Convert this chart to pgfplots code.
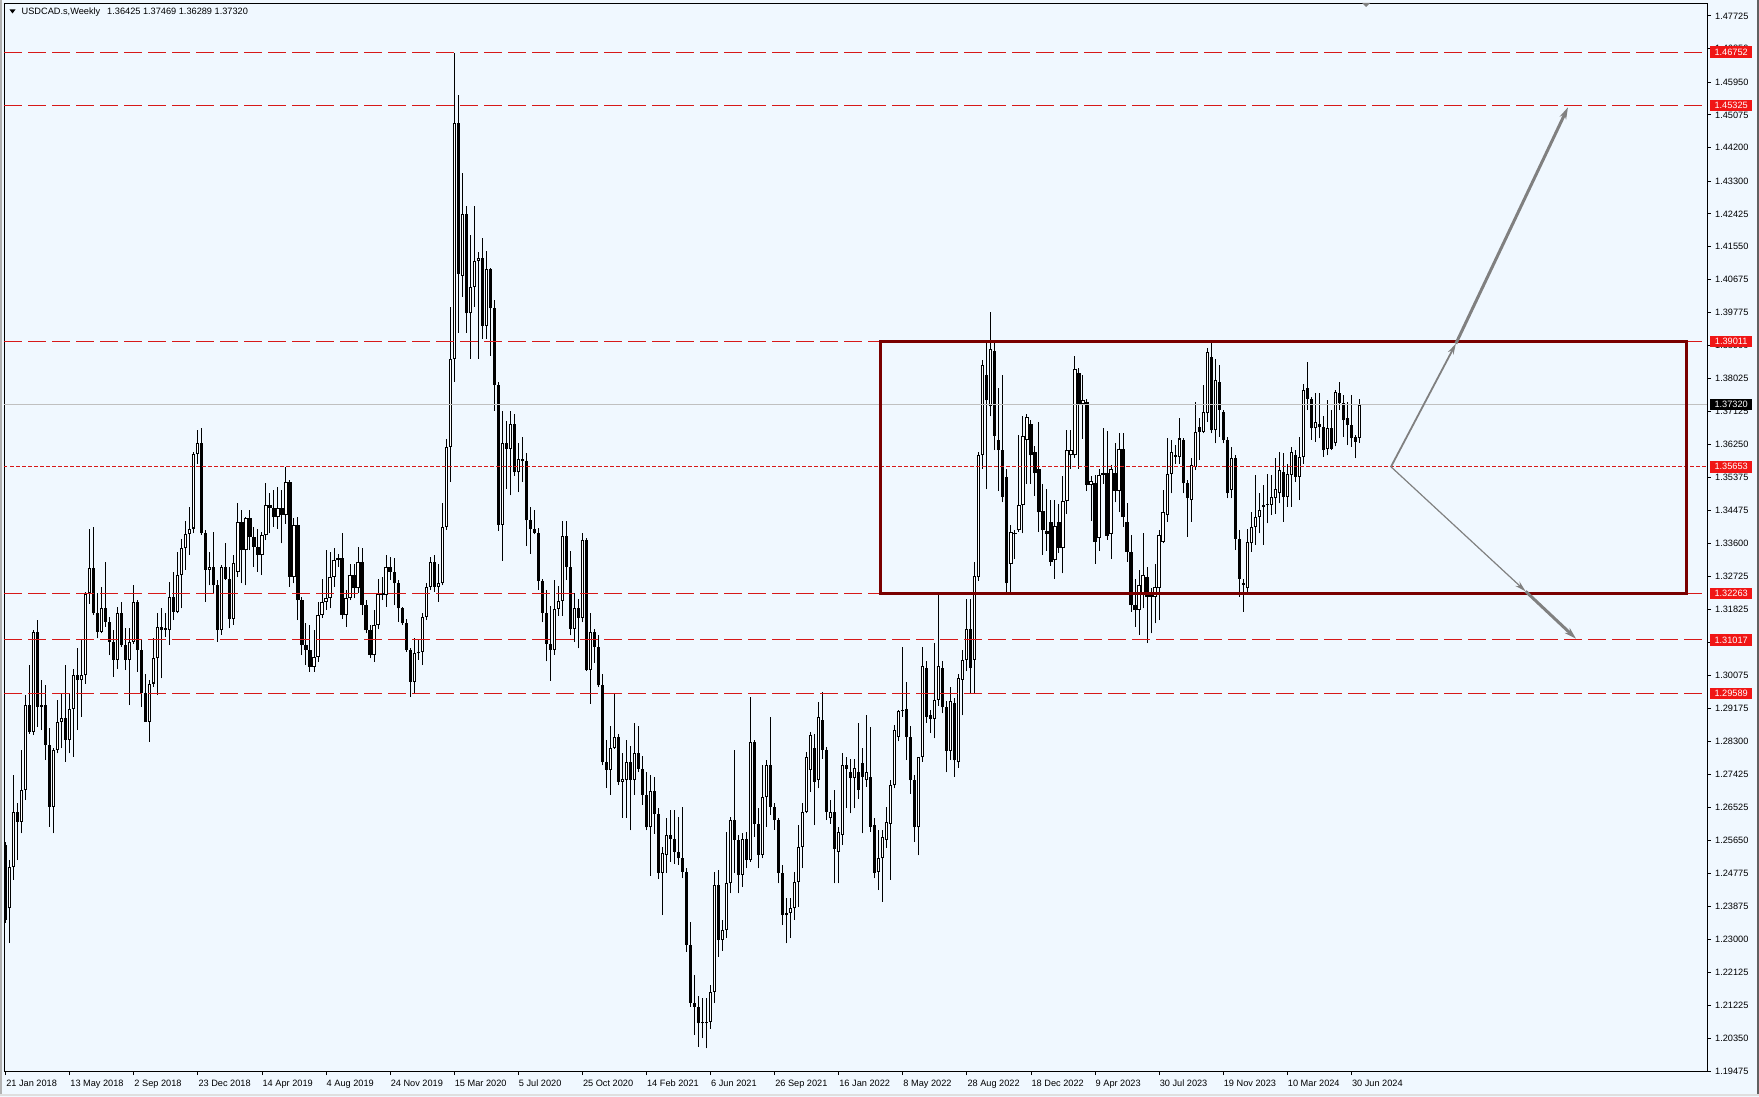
\documentclass[border=0pt]{standalone}
\usepackage{pgfplots}
\pgfplotsset{compat=1.18}
\usepackage{pgfplotstable}
\usepackage{fontspec}
\setmainfont{Liberation Sans}
\usetikzlibrary{arrows.meta,calc}
\definecolor{bgblue}{RGB}{240,248,255}
\definecolor{lred}{RGB}{215,25,25}
\definecolor{lblred}{RGB}{240,22,22}
\definecolor{boxred}{RGB}{122,0,0}
\definecolor{pricegray}{RGB}{192,192,192}
\definecolor{arrowgray}{RGB}{128,128,128}
\pgfplotstableread{
o h l c
1.2553 1.2560 1.2345 1.2352
1.2383 1.2512 1.2290 1.2495
1.2495 1.2740 1.2459 1.2642
1.2642 1.2664 1.2512 1.2615
1.2615 1.2807 1.2584 1.2700
1.2700 1.2954 1.2673 1.2927
1.2927 1.3034 1.2851 1.2856
1.2856 1.3128 1.2847 1.3124
1.3124 1.3155 1.2869 1.2923
1.2923 1.2994 1.2860 1.2927
1.2927 1.2981 1.2780 1.2820
1.2820 1.2865 1.2602 1.2655
1.2655 1.2811 1.2584 1.2807
1.2807 1.2941 1.2798 1.2883
1.2883 1.2959 1.2811 1.2893
1.2893 1.3034 1.2776 1.2834
1.2834 1.2959 1.2798 1.2918
1.2918 1.3025 1.2789 1.3008
1.3008 1.3079 1.2860 1.2994
1.2994 1.3101 1.2896 1.3008
1.3008 1.3231 1.2985 1.3226
1.3226 1.3400 1.3199 1.3293
1.3293 1.3405 1.3168 1.3173
1.3173 1.3226 1.3106 1.3124
1.3124 1.3244 1.3119 1.3186
1.3186 1.3311 1.3137 1.3150
1.3150 1.3164 1.3061 1.3097
1.3097 1.3128 1.3003 1.3048
1.3048 1.3190 1.3025 1.3173
1.3173 1.3204 1.3083 1.3088
1.3088 1.3133 1.3021 1.3048
1.3048 1.3133 1.2927 1.3097
1.3097 1.3248 1.3092 1.3204
1.3204 1.3208 1.3017 1.3075
1.3075 1.3101 1.2923 1.2959
1.2959 1.3010 1.2883 1.2883
1.2883 1.2994 1.2829 1.2985
1.2985 1.3106 1.2975 1.3052
1.3052 1.3173 1.2954 1.3137
1.3137 1.3186 1.2999 1.3128
1.3133 1.3173 1.3110 1.3128
1.3128 1.3257 1.3088 1.3217
1.3217 1.3284 1.3155 1.3177
1.3177 1.3338 1.3173 1.3275
1.3275 1.3373 1.3186 1.3347
1.3347 1.3420 1.3290 1.3385
1.3385 1.3458 1.3330 1.3400
1.3400 1.3605 1.3387 1.3600
1.3600 1.3663 1.3574 1.3628
1.3628 1.3668 1.3382 1.3387
1.3387 1.3396 1.3204 1.3289
1.3289 1.3338 1.3248 1.3298
1.3298 1.3391 1.3226 1.3248
1.3248 1.3262 1.3097 1.3128
1.3128 1.3302 1.3115 1.3298
1.3298 1.3360 1.3262 1.3266
1.3266 1.3298 1.3133 1.3159
1.3159 1.3329 1.3142 1.3307
1.3284 1.3467 1.3270 1.3418
1.3418 1.3449 1.3253 1.3342
1.3342 1.3431 1.3248 1.3427
1.3427 1.3449 1.3342 1.3378
1.3378 1.3405 1.3297 1.3351
1.3351 1.3400 1.3284 1.3329
1.3329 1.3390 1.3275 1.3382
1.3382 1.3521 1.3369 1.3463
1.3463 1.3494 1.3387 1.3456
1.3456 1.3503 1.3405 1.3430
1.3430 1.3512 1.3400 1.3456
1.3456 1.3503 1.3360 1.3436
1.3436 1.3565 1.3413 1.3525
1.3525 1.3530 1.3244 1.3271
1.3271 1.3427 1.3253 1.3409
1.3409 1.3431 1.3155 1.3208
1.3208 1.3217 1.3061 1.3088
1.3088 1.3146 1.3034 1.3075
1.3075 1.3141 1.3017 1.3030
1.3030 1.3128 1.3017 1.3057
1.3057 1.3204 1.3043 1.3168
1.3168 1.3266 1.3160 1.3204
1.3204 1.3342 1.3182 1.3213
1.3213 1.3338 1.3186 1.3271
1.3271 1.3347 1.3244 1.3315
1.3315 1.3333 1.3297 1.3320
1.3320 1.3387 1.3159 1.3168
1.3168 1.3235 1.3137 1.3213
1.3213 1.3306 1.3208 1.3275
1.3275 1.3306 1.3213 1.3240
1.3240 1.3351 1.3226 1.3311
1.3311 1.3347 1.3168 1.3195
1.3195 1.3208 1.3119 1.3128
1.3128 1.3141 1.3052 1.3061
1.3061 1.3182 1.3043 1.3141
1.3141 1.3266 1.3130 1.3226
1.3226 1.3271 1.3208 1.3222
1.3222 1.3329 1.3190 1.3298
1.3298 1.3324 1.3262 1.3284
1.3284 1.3320 1.3195 1.3253
1.3253 1.3262 1.3150 1.3186
1.3186 1.3190 1.3141 1.3146
1.3146 1.3159 1.3070 1.3075
1.3075 1.3079 1.2950 1.2990
1.2990 1.3106 1.2959 1.3066
1.3066 1.3101 1.3048 1.3070
1.3070 1.3173 1.3034 1.3164
1.3164 1.3253 1.3155 1.3244
1.3244 1.3324 1.3235 1.3311
1.3311 1.3329 1.3231 1.3244
1.3244 1.3306 1.3204 1.3253
1.3253 1.3467 1.3248 1.3405
1.3405 1.3640 1.3396 1.3619
1.3619 1.3994 1.3524 1.3854
1.3854 1.4673 1.3793 1.4485
1.4485 1.4560 1.3924 1.4081
1.4077 1.4351 1.4020 1.4241
1.4241 1.4264 1.3924 1.3976
1.3976 1.4185 1.3854 1.4046
1.4046 1.4264 1.3994 1.4116
1.4116 1.4140 1.3854 1.4123
1.4123 1.4177 1.3907 1.3942
1.3942 1.4142 1.3907 1.4095
1.4095 1.4098 1.3863 1.3990
1.3990 1.4011 1.3715 1.3785
1.3785 1.3793 1.3393 1.3410
1.3410 1.3715 1.3314 1.3628
1.3628 1.3689 1.3506 1.3614
1.3614 1.3715 1.3489 1.3680
1.3680 1.3706 1.3540 1.3550
1.3550 1.3628 1.3497 1.3585
1.3585 1.3645 1.3524 1.3580
1.3580 1.3602 1.3353 1.3422
1.3422 1.3457 1.3332 1.3398
1.3398 1.3450 1.3384 1.3389
1.3389 1.3402 1.3236 1.3259
1.3259 1.3266 1.3149 1.3175
1.3175 1.3236 1.3044 1.3092
1.3092 1.3192 1.2992 1.3076
1.3076 1.3262 1.3062 1.3185
1.3185 1.3245 1.3166 1.3206
1.3206 1.3419 1.3166 1.3381
1.3381 1.3419 1.3262 1.3297
1.3297 1.3341 1.3114 1.3132
1.3132 1.3227 1.3097 1.3187
1.3187 1.3210 1.3079 1.3161
1.3161 1.3388 1.3149 1.3370
1.3370 1.3375 1.3018 1.3022
1.3022 1.3175 1.2931 1.3123
1.3123 1.3131 1.3040 1.3084
1.3084 1.3114 1.2975 1.2980
1.2980 1.3010 1.2766 1.2774
1.2774 1.2835 1.2705 1.2754
1.2754 1.2870 1.2687 1.2813
1.2813 1.2957 1.2809 1.2841
1.2841 1.2850 1.2713 1.2722
1.2722 1.2800 1.2626 1.2730
1.2726 1.2835 1.2626 1.2774
1.2774 1.2818 1.2592 1.2726
1.2726 1.2879 1.2687 1.2800
1.2800 1.2870 1.2748 1.2757
1.2757 1.2792 1.2661 1.2687
1.2687 1.2748 1.2592 1.2600
1.2600 1.2740 1.2470 1.2696
1.2696 1.2736 1.2583 1.2635
1.2635 1.2652 1.2461 1.2478
1.2478 1.2548 1.2365 1.2531
1.2526 1.2624 1.2477 1.2579
1.2579 1.2646 1.2508 1.2570
1.2570 1.2646 1.2503 1.2535
1.2535 1.2628 1.2500 1.2517
1.2517 1.2655 1.2463 1.2481
1.2481 1.2490 1.2267 1.2285
1.2285 1.2347 1.2120 1.2129
1.2129 1.2205 1.2044 1.2120
1.2120 1.2147 1.2013 1.2075
1.2077 1.2142 1.2035 1.2075
1.2075 1.2142 1.2008 1.2080
1.2080 1.2178 1.2060 1.2160
1.2160 1.2481 1.2129 1.2445
1.2445 1.2486 1.2254 1.2298
1.2298 1.2352 1.2270 1.2325
1.2325 1.2588 1.2303 1.2450
1.2450 1.2628 1.2423 1.2619
1.2619 1.2807 1.2477 1.2566
1.2566 1.2579 1.2423 1.2472
1.2472 1.2584 1.2441 1.2570
1.2570 1.2588 1.2490 1.2512
1.2512 1.2949 1.2508 1.2829
1.2829 1.2835 1.2575 1.2610
1.2610 1.2651 1.2490 1.2526
1.2526 1.2766 1.2517 1.2682
1.2682 1.2780 1.2601 1.2766
1.2766 1.2896 1.2633 1.2655
1.2655 1.2665 1.2593 1.2619
1.2619 1.2625 1.2450 1.2477
1.2477 1.2499 1.2338 1.2365
1.2370 1.2410 1.2289 1.2365
1.2370 1.2410 1.2303 1.2383
1.2383 1.2481 1.2352 1.2454
1.2454 1.2606 1.2387 1.2548
1.2548 1.2664 1.2490 1.2642
1.2642 1.2802 1.2637 1.2789
1.2753 1.2856 1.2695 1.2847
1.2811 1.2851 1.2606 1.2722
1.2726 1.2936 1.2704 1.2896
1.2887 1.2963 1.2784 1.2807
1.2807 1.2816 1.2619 1.2642
1.2624 1.2673 1.2610 1.2642
1.2642 1.2700 1.2450 1.2543
1.2535 1.2601 1.2450 1.2588
1.2579 1.2798 1.2552 1.2766
1.2766 1.2789 1.2651 1.2757
1.2749 1.2784 1.2637 1.2731
1.2731 1.2784 1.2651 1.2758
1.2749 1.2878 1.2677 1.2700
1.2771 1.2811 1.2584 1.2735
1.2726 1.2900 1.2709 1.2749
1.2735 1.2869 1.2588 1.2601
1.2606 1.2624 1.2463 1.2477
1.2481 1.2593 1.2432 1.2517
1.2517 1.2593 1.2401 1.2575
1.2566 1.2655 1.2544 1.2615
1.2610 1.2726 1.2459 1.2713
1.2713 1.2873 1.2704 1.2860
1.2842 1.2914 1.2830 1.2911
1.2911 1.3084 1.2895 1.2913
1.2916 1.2990 1.2780 1.2842
1.2842 1.2870 1.2690 1.2726
1.2726 1.2740 1.2560 1.2600
1.2600 1.2789 1.2525 1.2789
1.2789 1.3084 1.2775 1.3032
1.3027 1.3045 1.2880 1.2895
1.2900 1.2915 1.2852 1.2890
1.2890 1.3094 1.2838 1.2942
1.2942 1.3227 1.2925 1.3032
1.3027 1.3045 1.2905 1.2921
1.2921 1.2937 1.2747 1.2805
1.2805 1.2975 1.2780 1.2937
1.2932 1.2945 1.2735 1.2779
1.2774 1.3010 1.2760 1.3000
1.2995 1.3075 1.2900 1.3048
1.3048 1.3212 1.3018 1.3132
1.3132 1.3212 1.2960 1.3027
1.3048 1.3310 1.2960 1.3274
1.3269 1.3606 1.3260 1.3596
1.3596 1.3850 1.3560 1.3838
1.3812 1.3900 1.3505 1.3743
1.3727 1.3980 1.3700 1.3880
1.3875 1.3900 1.3610 1.3648
1.3638 1.3775 1.3500 1.3611
1.3611 1.3810 1.3470 1.3485
1.3538 1.3560 1.3226 1.3253
1.3305 1.3410 1.3226 1.3390
1.3385 1.3395 1.3318 1.3388
1.3395 1.3650 1.3390 1.3464
1.3464 1.3700 1.3387 1.3648
1.3638 1.3706 1.3520 1.3698
1.3680 1.3690 1.3520 1.3596
1.3606 1.3622 1.3488 1.3548
1.3559 1.3685 1.3390 1.3443
1.3448 1.3520 1.3330 1.3395
1.3392 1.3505 1.3340 1.3385
1.3417 1.3475 1.3300 1.3311
1.3316 1.3475 1.3265 1.3406
1.3417 1.3465 1.3335 1.3348
1.3348 1.3540 1.3280 1.3474
1.3474 1.3665 1.3440 1.3611
1.3596 1.3665 1.3560 1.3611
1.3596 1.3862 1.3590 1.3828
1.3817 1.3830 1.3560 1.3733
1.3733 1.3810 1.3640 1.3743
1.3738 1.3748 1.3500 1.3517
1.3517 1.3540 1.3420 1.3527
1.3522 1.3543 1.3305 1.3364
1.3374 1.3560 1.3340 1.3543
1.3543 1.3670 1.3520 1.3548
1.3548 1.3660 1.3370 1.3380
1.3385 1.3570 1.3318 1.3559
1.3548 1.3630 1.3470 1.3501
1.3501 1.3655 1.3445 1.3614
1.3612 1.3655 1.3405 1.3431
1.3418 1.3467 1.3311 1.3338
1.3338 1.3382 1.3177 1.3195
1.3195 1.3266 1.3137 1.3182
1.3182 1.3289 1.3115 1.3249
1.3222 1.3387 1.3186 1.3275
1.3271 1.3298 1.3093 1.3217
1.3217 1.3240 1.3119 1.3222
1.3217 1.3305 1.3146 1.3244
1.3240 1.3396 1.3155 1.3382
1.3365 1.3503 1.3360 1.3445
1.3436 1.3641 1.3418 1.3547
1.3547 1.3636 1.3494 1.3605
1.3592 1.3623 1.3574 1.3596
1.3592 1.3695 1.3574 1.3641
1.3637 1.3641 1.3494 1.3521
1.3521 1.3530 1.3378 1.3481
1.3476 1.3588 1.3418 1.3570
1.3565 1.3739 1.3556 1.3659
1.3672 1.3695 1.3583 1.3659
1.3659 1.3784 1.3655 1.3712
1.3708 1.3882 1.3686 1.3873
1.3860 1.3900 1.3655 1.3663
1.3663 1.3855 1.3628 1.3797
1.3793 1.3837 1.3646 1.3717
1.3712 1.3717 1.3628 1.3637
1.3637 1.3646 1.3481 1.3494
1.3503 1.3619 1.3481 1.3588
1.3588 1.3596 1.3342 1.3373
1.3373 1.3396 1.3217 1.3266
1.3255 1.3266 1.3177 1.3249
1.3240 1.3400 1.3226 1.3365
1.3360 1.3445 1.3338 1.3405
1.3405 1.3543 1.3356 1.3431
1.3431 1.3494 1.3387 1.3449
1.3458 1.3516 1.3356 1.3463
1.3463 1.3547 1.3414 1.3463
1.3463 1.3543 1.3436 1.3485
1.3481 1.3588 1.3440 1.3505
1.3494 1.3605 1.3467 1.3556
1.3552 1.3601 1.3418 1.3485
1.3485 1.3574 1.3458 1.3547
1.3543 1.3619 1.3458 1.3605
1.3596 1.3610 1.3525 1.3539
1.3539 1.3646 1.3476 1.3592
1.3592 1.3788 1.3574 1.3770
1.3775 1.3846 1.3717 1.3748
1.3748 1.3753 1.3637 1.3668
1.3668 1.3762 1.3632 1.3686
1.3680 1.3762 1.3641 1.3671
1.3672 1.3700 1.3592 1.3610
1.3614 1.3744 1.3596 1.3668
1.3668 1.3717 1.3610 1.3614
1.3628 1.3770 1.3620 1.3766
1.3762 1.3793 1.3717 1.3735
1.3735 1.3757 1.3646 1.3690
1.3695 1.3739 1.3623 1.3677
1.3677 1.3757 1.3619 1.3641
1.3646 1.3650 1.3588 1.3632
1.36425 1.37469 1.36289 1.37320
}\ohlc
\begin{document}
\begin{tikzpicture}[x=1pt,y=1pt]
\fill[bgblue] (-3000,-3000) rectangle (5000,5000);
\begin{axis}[
  name=ax,
  scale only axis,
  width=1703pt, height=1068pt,
  xmin=-0.4, xmax=424.8, ymin=1.19475, ymax=1.480694,
  clip mode=individual,
  axis background/.style={fill=bgblue},
  axis line style={black, line width=0.8pt},
  tick align=outside, major tick length=4pt,
  tick style={black, line width=0.8pt},
  xtick pos=left, ytick pos=right, yticklabel pos=right,
  ticklabel style={font=\fontsize{9.2}{11}\selectfont},
  ytick={1.19475,1.20350,1.21225,1.22125,1.23000,1.23875,1.24775,1.25650,1.26525,1.27425,1.28300,1.29175,1.30075,1.30950,1.31825,1.32725,1.33600,1.34475,1.35375,1.36250,1.37125,1.38025,1.38900,1.39775,1.40675,1.41550,1.42425,1.43300,1.44200,1.45075,1.45950,1.46850,1.47725},
  yticklabels={1.19475,1.20350,1.21225,1.22125,1.23000,1.23875,1.24775,1.25650,1.26525,1.27425,1.28300,1.29175,1.30075,1.30950,1.31825,1.32725,1.33600,1.34475,1.35375,1.36250,1.37125,1.38025,1.38900,1.39775,1.40675,1.41550,1.42425,1.43300,1.44200,1.45075,1.45950,1.46850,1.47725},
  yticklabel style={anchor=west, inner sep=0pt, xshift=4pt},
  xtick={0,16,...,336},
  xticklabels={21 Jan 2018,13 May 2018,2 Sep 2018,23 Dec 2018,14 Apr 2019,4 Aug 2019,24 Nov 2019,15 Mar 2020,5 Jul 2020,25 Oct 2020,14 Feb 2021,6 Jun 2021,26 Sep 2021,16 Jan 2022,8 May 2022,28 Aug 2022,18 Dec 2022,9 Apr 2023,30 Jul 2023,19 Nov 2023,10 Mar 2024,30 Jun 2024},
  xticklabel style={anchor=base west, inner sep=0pt, xshift=0.5pt, yshift=-11pt},
]
% wicks
\addplot[forget plot, draw=none, error bars/.cd, y dir=plus, y explicit, error mark=none,
  error bar style={draw=black, line width=1pt}]
  table[x expr=\coordindex, y=l, y error expr=\thisrow{h}-\thisrow{l}] {\ohlc};
% bodies (black)
\addplot[forget plot, draw=none, error bars/.cd, y dir=plus, y explicit, error mark=none,
  error bar style={draw=black, line width=3.2pt}]
  table[x expr=\coordindex, y expr={min(\thisrow{o},\thisrow{c})}, y error expr={max(abs(\thisrow{c}-\thisrow{o}),0.00028)}] {\ohlc};
% bullish inner (white)
\addplot[forget plot, draw=none, error bars/.cd, y dir=plus, y explicit, error mark=none,
  error bar style={draw=white, line width=1.2pt}]
  table[x expr=\coordindex,
    y expr={(\thisrow{c}-\thisrow{o}>0.0006) ? \thisrow{o}+0.00027 : 1.19},
    y error expr={(\thisrow{c}-\thisrow{o}>0.0006) ? \thisrow{c}-\thisrow{o}-0.00054 : 0}] {\ohlc};
% level lines
\draw[pricegray, line width=0.8pt] (axis cs:-0.4,1.37320) -- (axis cs:424.8,1.37320);
\foreach \lv in {1.46752,1.45325,1.39011,1.32263,1.31017,1.29589}{
  \edef\tmp{\noexpand\draw[lred, line width=1pt, dash pattern=on 17.5pt off 6.5pt] (axis cs:-0.4,\lv) -- (axis cs:424.8,\lv);}\tmp
}
\draw[lred, line width=1pt, dash pattern=on 3.5pt off 2.5pt] (axis cs:-0.4,1.35653) -- (axis cs:424.8,1.35653);
% range box
\draw[boxred, line width=3.5pt] (axis cs:218.5,1.32263) rectangle (axis cs:419.7,1.39011);
% arrows
\draw[arrowgray, line width=1.8pt, -{Stealth[length=11pt,width=6pt]}] (axis cs:345.9,1.35653) -- (axis cs:362.1,1.3895);
\draw[arrowgray, line width=3pt, -{Stealth[length=12pt,width=7pt]}] (axis cs:362.1,1.3895) -- (axis cs:390.1,1.4528);
\draw[arrowgray, line width=1.2pt, -{Stealth[length=11pt,width=6pt]}] (axis cs:345.9,1.35653) -- (axis cs:379.5,1.3232);
\draw[arrowgray, line width=3pt, -{Stealth[length=12pt,width=7pt]}] (axis cs:379.5,1.3232) -- (axis cs:392.1,1.3105);
% reference corner and anchors for the price labels
\coordinate (SW) at (axis cs:-0.4,1.19475);
\coordinate (La) at (axis cs:424.8,1.46752);
\coordinate (Lb) at (axis cs:424.8,1.45325);
\coordinate (Lc) at (axis cs:424.8,1.39011);
\coordinate (Ld) at (axis cs:424.8,1.37320);
\coordinate (Le) at (axis cs:424.8,1.35653);
\coordinate (Lf) at (axis cs:424.8,1.32263);
\coordinate (Lg) at (axis cs:424.8,1.31017);
\coordinate (Lh) at (axis cs:424.8,1.29589);
\end{axis}
% price labels on the right axis
\foreach \n/\p/\col in {a/1.46752/lblred,b/1.45325/lblred,c/1.39011/lblred,d/1.37320/black,e/1.35653/lblred,f/1.32263/lblred,g/1.31017/lblred,h/1.29589/lblred}{
  \node[fill=\col, text=white, anchor=west, inner sep=0pt, minimum width=42pt, minimum height=11.5pt,
    font=\fontsize{9.2}{11}\selectfont, xshift=3pt] at (L\n) {\p};
}
\begin{scope}[shift={($(SW)+(-4,-25)$)}]
% header
\fill[black] (9.5,1086.5) -- (15.5,1086.5) -- (12.5,1082.5) -- cycle;
\node[anchor=base west, inner sep=0pt, font=\fontsize{9.2}{11}\selectfont] at (21.5,1081) {USDCAD.s,Weekly\hspace{7pt}1.36425 1.37469 1.36289 1.37320};
% small marker at top
\fill[arrowgray] (1362,1093) -- (1370,1093) -- (1366,1089) -- cycle;
% window borders
\fill[gray!60] (0,0) rectangle (2,1096);
\fill[gray!75!black] (1757,0) rectangle (1759,1096);
\fill[gray!25] (0,0) rectangle (1759,2);
\pgfresetboundingbox
\useasboundingbox (0,0) rectangle (1759,1096);
\end{scope}
\end{tikzpicture}
\end{document}
